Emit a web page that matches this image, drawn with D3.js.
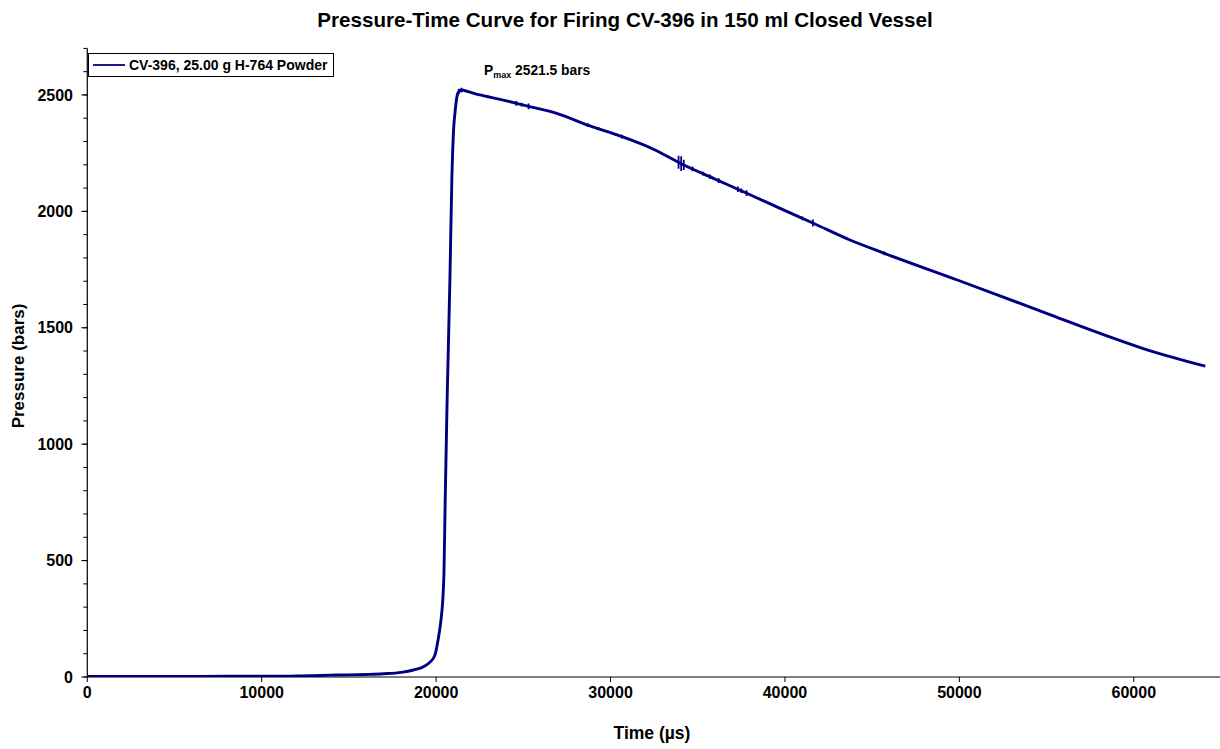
<!DOCTYPE html>
<html>
<head>
<meta charset="utf-8">
<script src="https://cdn.jsdelivr.net/npm/d3@7"></script>
<style>
  html, body { margin: 0; padding: 0; background: #fff; }
  svg { display: block; font-family: "Liberation Sans", Arial, sans-serif; }
</style>
</head>
<body>
<svg id="chart" width="1220" height="749"></svg>
<script>
// ---- Data ----
const chartTitle = "Pressure-Time Curve for Firing CV-396 in 150 ml Closed Vessel";
const seriesName = "CV-396, 25.00 g H-764 Powder";
const pmaxValue = 2521.5;

// time in microseconds
const timeUs = [0, 2000, 5000, 8000, 10000, 12000, 13000, 14000, 15000, 16000, 17000,
  18000, 18700, 19300, 19650, 19930, 20110, 20280, 20380, 20450, 20520, 20630, 20790,
  20900, 21000, 21080, 21200, 21300, 21470, 21800, 22520, 23660, 25190, 26910, 28820,
  30540, 32460, 33990, 35900, 37810, 39720, 41630, 43730, 45700, 50000, 55000, 58070,
  61000, 64100];
// pressure in bars
const pressureBars = [2, 2, 2, 3, 3, 4, 6, 8, 9, 11, 14,
  20, 30, 45, 64, 94, 159, 245, 330, 450, 760, 1190, 1705,
  2135, 2350, 2423, 2495, 2515, 2521.5, 2515, 2500, 2481, 2453, 2421, 2367,
  2324, 2267, 2207, 2142, 2078, 2013, 1949, 1877, 1820, 1702, 1562, 1476,
  1400, 1335];

// noise bursts on the trace: time (µs) and half-height of the jitter (bars)
const burstTimes = [21300, 21450, 24600, 24900, 25300, 28700, 29300, 30300, 30650,
  33900, 34050, 34200, 34700, 35300, 35700, 36200, 37300, 37500, 37800, 41000, 41600, 45700];
const burstHalf = [12, 10, 10, 8, 12, 8, 7, 6, 8,
  28, 32, 22, 10, 8, 10, 10, 12, 10, 12, 8, 15, 8];

const yTicks = [0, 500, 1000, 1500, 2000, 2500];
const xTicks = [0, 10000, 20000, 30000, 40000, 50000, 60000];

// ---- Drawing ----
const svg = d3.select("#chart");
const x = d3.scaleLinear().domain([0, 65000]).range([87.3, 1221]);
const y = d3.scaleLinear().domain([0, 2700]).range([677, 48.4]);

const data = timeUs.map((t, i) => ({ t, p: pressureBars[i] }));
const interp = t => {
  const i = d3.bisectLeft(timeUs, t);
  if (i <= 0) return pressureBars[0];
  if (i >= timeUs.length) return pressureBars[pressureBars.length - 1];
  const t0 = timeUs[i - 1], t1 = timeUs[i];
  return pressureBars[i - 1] + (pressureBars[i] - pressureBars[i - 1]) * (t - t0) / (t1 - t0);
};

// title
svg.append("text")
  .attr("x", 625).attr("y", 27)
  .attr("text-anchor", "middle")
  .attr("font-size", 20.6).attr("font-weight", "bold")
  .text(chartTitle);

// axes
const axisG = svg.append("g");
axisG.append("line")
  .attr("x1", x(0)).attr("x2", x(0))
  .attr("y1", y(0)).attr("y2", y(2700))
  .attr("stroke", "#000").attr("stroke-width", 1.2);
axisG.append("line")
  .attr("x1", x(0)).attr("x2", 1220)
  .attr("y1", y(0)).attr("y2", y(0))
  .attr("stroke", "#000").attr("stroke-width", 1.2);

// y minor ticks
d3.range(0, 2701, 100).forEach(v => {
  axisG.append("line")
    .attr("x1", x(0) - 4).attr("x2", x(0))
    .attr("y1", y(v)).attr("y2", y(v))
    .attr("stroke", "#000").attr("stroke-width", 1);
});
// y major ticks + labels
yTicks.forEach(v => {
  axisG.append("line")
    .attr("x1", x(0) - 6).attr("x2", x(0))
    .attr("y1", y(v)).attr("y2", y(v))
    .attr("stroke", "#000").attr("stroke-width", 1);
  axisG.append("text")
    .attr("x", 73).attr("y", y(v) + 5.7)
    .attr("text-anchor", "end")
    .attr("font-size", 16).attr("font-weight", "bold")
    .text(v);
});
// x major ticks + labels
xTicks.forEach(v => {
  axisG.append("line")
    .attr("x1", x(v)).attr("x2", x(v))
    .attr("y1", y(0)).attr("y2", y(0) + 5)
    .attr("stroke", "#000").attr("stroke-width", 1);
  axisG.append("text")
    .attr("x", x(v)).attr("y", 698)
    .attr("text-anchor", "middle")
    .attr("font-size", 16).attr("font-weight", "bold")
    .text(v);
});

// axis titles
svg.append("text")
  .attr("x", 652).attr("y", 739)
  .attr("text-anchor", "middle")
  .attr("font-size", 17.5).attr("font-weight", "bold")
  .text("Time (\u00b5s)");
svg.append("text")
  .attr("transform", "translate(24,366) rotate(-90)")
  .attr("text-anchor", "middle")
  .attr("font-size", 17).attr("font-weight", "bold")
  .text("Pressure (bars)");

// clip for data
svg.append("clipPath").attr("id", "plotclip")
  .append("rect").attr("x", x(0)).attr("y", y(2700)).attr("width", 1220 - x(0)).attr("height", y(0) - y(2700));

const plot = svg.append("g").attr("clip-path", "url(#plotclip)");
const line = d3.line().x(d => x(d.t)).y(d => y(d.p)).curve(d3.curveMonotoneX);
plot.append("path")
  .datum(data)
  .attr("fill", "none")
  .attr("stroke", "#000080")
  .attr("stroke-width", 2.9)
  .attr("stroke-linejoin", "round")
  .attr("d", line);

// jitter bursts
plot.selectAll("line.burst")
  .data(burstTimes.map((t, i) => ({ t, h: burstHalf[i] })))
  .enter().append("line")
  .attr("class", "burst")
  .attr("x1", d => x(d.t)).attr("x2", d => x(d.t))
  .attr("y1", d => y(interp(d.t) + d.h)).attr("y2", d => y(interp(d.t) - d.h))
  .attr("stroke", "#000080").attr("stroke-width", 1.8);

// legend
const lg = svg.append("g");
lg.append("rect")
  .attr("x", 88.5).attr("y", 53.5).attr("width", 245).attr("height", 23)
  .attr("fill", "#fff").attr("stroke", "#000").attr("stroke-width", 1);
lg.append("line")
  .attr("x1", 93).attr("x2", 125).attr("y1", 65).attr("y2", 65)
  .attr("stroke", "#000080").attr("stroke-width", 1.8);
lg.append("text")
  .attr("x", 129).attr("y", 70)
  .attr("font-size", 14).attr("font-weight", "bold")
  .text(seriesName);

// Pmax annotation
const ann = svg.append("text")
  .attr("x", 484).attr("y", 75)
  .attr("font-size", 13.8).attr("font-weight", "bold");
ann.append("tspan").text("P");
ann.append("tspan").attr("font-size", 9).attr("dy", 3).text("max");
ann.append("tspan").attr("dy", -3).text(" " + pmaxValue + " bars");
</script>
</body>
</html>
